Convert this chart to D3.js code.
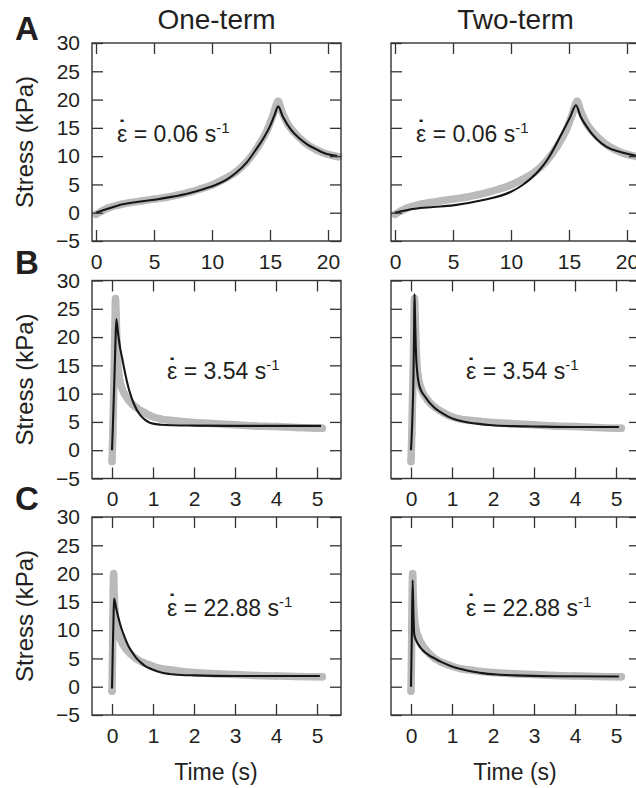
<!DOCTYPE html>
<html><head><meta charset="utf-8">
<script src="https://cdn.jsdelivr.net/npm/d3@7"></script>
<style>
body{margin:0;background:#fff}
svg{display:block}
text{font-family:"Liberation Sans",Arial,Helvetica,sans-serif;fill:#231f20}
</style>
</head><body>
<svg id="chart" width="636" height="788"></svg>
<script>
// ---------- data ----------
const columnTitles = ["One-term", "Two-term"];
const rowLetters = ["A", "B", "C"];
const strainRates = ["0.06", "3.54", "22.88"];
const xTicksA = [0, 5, 10, 15, 20];
const xTicksBC = [0, 1, 2, 3, 4, 5];
const yTicks = [-5, 0, 5, 10, 15, 20, 25, 30];

// experimental data (gray), [time s, stress kPa]
const expA = [[0,-0.3],[0.5,0.3],[1,0.8],[2,1.4],[3,1.8],[4,2.1],[5,2.4],[6,2.7],[7,3.1],[8,3.6],[9,4.2],[10,4.9],[11,5.9],[12,7.1],[13,9.0],[14,11.8],[14.8,14.8],[15.3,17.5],[15.7,19.7],[16.0,18.0],[16.5,15.8],[17,14.4],[18,12.4],[19,11.1],[20,10.3],[20.9,9.9]];
const expB = [[0.0,-2.0],[0.02,3],[0.04,10],[0.06,17],[0.075,23],[0.085,26.8],[0.1,24],[0.12,19],[0.14,15.5],[0.17,13.2],[0.2,12],[0.25,10.8],[0.3,10],[0.4,8.9],[0.5,8.1],[0.6,7.5],[0.7,7.0],[0.8,6.6],[0.9,6.2],[1.0,5.9],[1.2,5.5],[1.4,5.3],[1.7,5.1],[2.0,4.9],[2.5,4.7],[3.0,4.5],[3.5,4.3],[4.0,4.2],[4.5,4.0],[5.0,3.9],[5.13,3.9]];
const expC = [[0.0,-0.8],[0.01,4],[0.02,11],[0.03,17],[0.04,20],[0.055,16],[0.08,12.5],[0.12,10.2],[0.18,8.8],[0.25,7.7],[0.35,6.6],[0.45,5.8],[0.6,4.9],[0.75,4.3],[0.9,3.9],[1.0,3.6],[1.2,3.2],[1.4,3.0],[1.7,2.7],[2.0,2.5],[2.5,2.3],[3.0,2.15],[3.5,2.0],[4.0,1.9],[4.5,1.8],[5.0,1.75],[5.13,1.75]];

// one-term fits (black)
const oneTermA = [[0,0],[1,0.7],[2.3,1.5],[3.5,1.9],[5.2,2.35],[6.5,2.8],[8.1,3.5],[9.3,4.2],[10.4,5.0],[11.3,5.9],[12.1,7.1],[13,8.9],[13.8,11.2],[14.5,13.4],[15.0,15.3],[15.4,17.3],[15.7,18.8],[16.1,17.0],[16.8,14.7],[17.5,13.2],[18.2,12.1],[19,11.2],[19.6,10.6],[20.8,10.0]];
const oneTermB = [[0.0,0],[0.02,4],[0.04,8.5],[0.06,13],[0.08,18],[0.105,23.2],[0.15,20.5],[0.2,18],[0.25,16.2],[0.3,14.3],[0.35,12.6],[0.4,11.1],[0.45,9.9],[0.5,8.8],[0.6,7.2],[0.7,6.1],[0.8,5.4],[0.9,4.95],[1.0,4.7],[1.2,4.5],[1.5,4.4],[2.0,4.35],[3,4.3],[4,4.3],[5.1,4.3]];
const oneTermC = [[0,-0.3],[0.01,3],[0.02,7],[0.035,11.5],[0.05,15.6],[0.1,13.9],[0.2,11.0],[0.3,8.9],[0.4,7.2],[0.5,6.0],[0.6,5.0],[0.7,4.3],[0.8,3.7],[0.9,3.3],[1.0,3.0],[1.2,2.5],[1.4,2.25],[1.7,2.07],[2.0,2.0],[3,1.9],[4,1.9],[5.07,1.9]];

// two-term fits (black)
const twoTermA = [[0,0],[1.7,0.7],[3.3,1.0],[5,1.3],[7.5,2.2],[10,3.7],[11,4.9],[11.8,6.2],[12.6,7.9],[13.3,9.9],[14.4,14.1],[15.1,16.9],[15.6,19.0],[16.0,17.0],[16.7,14.7],[17.4,13.0],[18.2,11.7],[19.3,10.8],[20.9,10.0]];
const twoTermB = [[0,0],[0.03,5],[0.06,13],[0.075,21],[0.085,27.6],[0.1,23],[0.115,18.5],[0.13,15.9],[0.16,13.2],[0.19,11.8],[0.25,10.5],[0.35,9.4],[0.45,8.4],[0.59,7.4],[0.75,6.6],[0.92,5.9],[1.1,5.4],[1.33,5.0],[1.6,4.7],[1.98,4.4],[2.5,4.25],[2.95,4.2],[4,4.1],[5.07,4.1]];
const twoTermC = [[0,0],[0.02,9],[0.04,18.8],[0.06,12.5],[0.08,9.2],[0.12,8.3],[0.19,7.3],[0.28,6.5],[0.43,5.6],[0.6,4.9],[0.76,4.3],[0.95,3.7],[1.16,3.2],[1.42,2.8],[1.73,2.4],[2.1,2.15],[2.54,2.0],[3.5,1.85],[5.07,1.8]];

const expRows = [expA, expB, expC];
const fitRows = [[oneTermA, twoTermA], [oneTermB, twoTermB], [oneTermC, twoTermC]];
const xDomains = [[-0.345, 21.12], [-0.488, 5.585], [-0.488, 5.585]];
const xTickRows = [xTicksA, xTicksBC, xTicksBC];

// ---------- layout ----------
const svg = d3.select("#chart");
const colX = [92, 391];
const boxW = 249;
const rowY = [43, 280.5, 517];
const boxH = 198;
const tickLen = 11;
const frameColor = "#333333";
const grayColor = "#b9babc";
const fitColor = "#161616";

columnTitles.forEach((t, c) => {
  svg.append("text").attr("x", colX[c] + boxW / 2).attr("y", 29)
    .attr("text-anchor", "middle").style("font-size", "28px").text(t);
});

rowLetters.forEach((letter, r) => {
  const top = rowY[r], bottom = top + boxH;
  const letterBase = [40, 274, 510][r];
  svg.append("text").attr("x", 15).attr("y", letterBase)
    .style("font-size", "33px").style("font-weight", "bold").text(letter);

  svg.append("text")
    .attr("transform", `translate(33,${top + boxH / 2}) rotate(-90)`)
    .attr("text-anchor", "middle").style("font-size", "24px").text("Stress (kPa)");

  columnTitles.forEach((_, c) => {
    const left = colX[c], right = left + boxW;
    const x = d3.scaleLinear().domain(xDomains[r]).range([left, right]);
    const y = d3.scaleLinear().domain([-5, 30]).range([bottom, top]);
    const g = svg.append("g");

    const line = d3.line().x(d => x(d[0])).y(d => y(d[1])).curve(d3.curveMonotoneX);
    g.append("path").datum(expRows[r]).attr("d", line)
      .attr("fill", "none").attr("stroke", grayColor).attr("stroke-width", 7.5)
      .attr("stroke-linecap", "round").attr("stroke-linejoin", "round");
    g.selectAll("circle.exp").data(expRows[r]).join("circle")
      .attr("cx", d => x(d[0])).attr("cy", d => y(d[1])).attr("r", 3.6).attr("fill", grayColor);
    g.append("path").datum(fitRows[r][c]).attr("d", line)
      .attr("fill", "none").attr("stroke", fitColor).attr("stroke-width", 2.1)
      .attr("stroke-linejoin", "round");

    const styleAxis = sel => {
      sel.select(".domain").remove();
      sel.selectAll(".tick line").attr("stroke", frameColor).attr("stroke-width", 1.3);
      sel.selectAll("text").style("font-size", "21px")
        .style("font-family", '"Liberation Sans",Arial,Helvetica,sans-serif').attr("fill", "#231f20");
    };
    const xt = xTickRows[r];
    g.append("g").attr("transform", `translate(0,${bottom})`)
      .call(d3.axisBottom(x).tickValues(xt).tickSize(-tickLen).tickPadding(13).tickFormat(d3.format("d")))
      .call(styleAxis);
    g.append("g").attr("transform", `translate(0,${top})`)
      .call(d3.axisTop(x).tickValues(xt).tickSize(-tickLen).tickFormat(""))
      .call(styleAxis);
    const yl = d3.axisLeft(y).tickValues(yTicks).tickSize(-tickLen).tickPadding(12)
      .tickFormat(c === 0 ? (d => d < 0 ? "\u2212" + Math.abs(d) : String(d)) : "");
    g.append("g").attr("transform", `translate(${left},0)`).call(yl).call(styleAxis);
    g.append("g").attr("transform", `translate(${right},0)`)
      .call(d3.axisRight(y).tickValues(yTicks).tickSize(-tickLen).tickFormat(""))
      .call(styleAxis);

    g.append("rect").attr("x", left).attr("y", top).attr("width", boxW).attr("height", boxH)
      .attr("fill", "none").attr("stroke", frameColor).attr("stroke-width", 1.4);

    // annotation: strain rate, epsilon with dot above (single text element)
    const annX = left + (r === 0 ? 25 : 75);
    const annY = top + 98.5;
    const ann = g.append("text").attr("x", annX).attr("y", annY).style("font-size", "23px");
    ann.append("tspan").text("\u03B5");
    const dot = ann.append("tspan").attr("dy", -4.5).style("font-weight", "bold").text("\u02D9");
    const rest = ann.append("tspan").attr("dy", 4.5).text(" = " + strainRates[r] + " s");
    ann.append("tspan").attr("dy", -9).style("font-size", "15px").text("-1");
    const epsW = ann.node().getSubStringLength(0, 1);
    const dotW = ann.node().getSubStringLength(1, 1);
    dot.attr("dx", -(epsW / 2 + dotW / 2));
    rest.attr("dx", epsW / 2 - dotW / 2);

    if (r === 2) {
      svg.append("text").attr("x", left + boxW / 2 - 0.5).attr("y", 780)
        .attr("text-anchor", "middle").style("font-size", "23px").text("Time (s)");
    }
  });
});
</script>
</body></html>
